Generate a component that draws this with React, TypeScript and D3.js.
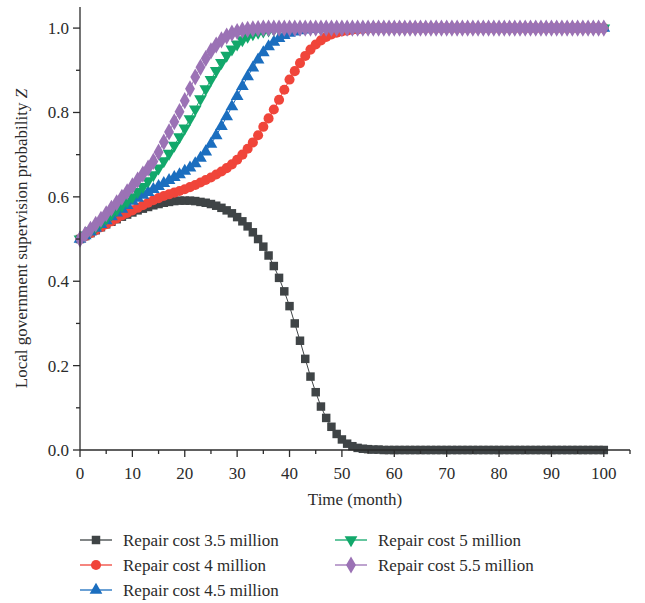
import * as d3 from "d3";

// months 0..100
const months = d3.range(0, 101);

const cost35 = [
  0.5, 0.507, 0.514, 0.521, 0.528, 0.535, 0.541, 0.547, 0.553, 0.558,
  0.563, 0.568, 0.572, 0.576, 0.58, 0.583, 0.586, 0.588, 0.59, 0.591,
  0.591, 0.591, 0.59, 0.588, 0.586, 0.583, 0.579, 0.574, 0.568, 0.561,
  0.552, 0.542, 0.53, 0.516, 0.5, 0.482, 0.461, 0.436, 0.408, 0.376,
  0.341, 0.3, 0.259, 0.216, 0.174, 0.137, 0.103, 0.076, 0.055, 0.038,
  0.025, 0.015, 0.009, 0.005, 0.003, 0.002, 0.001, 0.001, 0, 0,
  0, 0, 0, 0, 0, 0, 0, 0, 0, 0,
  0, 0, 0, 0, 0, 0, 0, 0, 0, 0,
  0, 0, 0, 0, 0, 0, 0, 0, 0, 0,
  0, 0, 0, 0, 0, 0, 0, 0, 0, 0,
  0,
];

const cost4 = [
  0.5, 0.507, 0.514, 0.521, 0.528, 0.535, 0.542, 0.549, 0.556, 0.562,
  0.568, 0.574, 0.58, 0.586, 0.592, 0.597, 0.602, 0.606, 0.61, 0.614,
  0.618, 0.623, 0.628, 0.634, 0.64, 0.646, 0.653, 0.66, 0.668, 0.677,
  0.688, 0.7, 0.714, 0.729, 0.746, 0.766, 0.786, 0.807, 0.83, 0.854,
  0.878, 0.898, 0.917, 0.934, 0.949, 0.961, 0.971, 0.979, 0.985, 0.989,
  0.992, 0.994, 0.996, 0.997, 0.998, 0.999, 1, 1, 1, 1,
  1, 1, 1, 1, 1, 1, 1, 1, 1, 1,
  1, 1, 1, 1, 1, 1, 1, 1, 1, 1,
  1, 1, 1, 1, 1, 1, 1, 1, 1, 1,
  1, 1, 1, 1, 1, 1, 1, 1, 1, 1,
  1,
];

const cost45 = [
  0.5, 0.508, 0.517, 0.526, 0.535, 0.544, 0.553, 0.562, 0.571, 0.58,
  0.59, 0.597, 0.604, 0.611, 0.618, 0.625, 0.632, 0.639, 0.646, 0.653,
  0.661, 0.669, 0.679, 0.692, 0.707, 0.725, 0.745, 0.767, 0.79, 0.814,
  0.838, 0.862, 0.885, 0.906, 0.925, 0.942, 0.956, 0.967, 0.976, 0.983,
  0.988, 0.991, 0.994, 0.996, 0.997, 0.998, 0.999, 1, 1, 1,
  1, 1, 1, 1, 1, 1, 1, 1, 1, 1,
  1, 1, 1, 1, 1, 1, 1, 1, 1, 1,
  1, 1, 1, 1, 1, 1, 1, 1, 1, 1,
  1, 1, 1, 1, 1, 1, 1, 1, 1, 1,
  1, 1, 1, 1, 1, 1, 1, 1, 1, 1,
  1,
];

const cost5 = [
  0.5, 0.509, 0.519, 0.529, 0.539, 0.549, 0.559, 0.569, 0.579, 0.589,
  0.6, 0.612, 0.624, 0.638, 0.652, 0.668, 0.685, 0.703, 0.722, 0.742,
  0.763, 0.785, 0.808, 0.832, 0.856, 0.878, 0.899, 0.918, 0.935, 0.95,
  0.962, 0.972, 0.98, 0.986, 0.99, 0.993, 0.995, 0.997, 0.998, 0.999,
  1, 1, 1, 1, 1, 1, 1, 1, 1, 1,
  1, 1, 1, 1, 1, 1, 1, 1, 1, 1,
  1, 1, 1, 1, 1, 1, 1, 1, 1, 1,
  1, 1, 1, 1, 1, 1, 1, 1, 1, 1,
  1, 1, 1, 1, 1, 1, 1, 1, 1, 1,
  1, 1, 1, 1, 1, 1, 1, 1, 1, 1,
  1,
];

const cost55 = [
  0.5, 0.511, 0.523, 0.535, 0.547, 0.56, 0.573, 0.586, 0.599, 0.612,
  0.626, 0.64, 0.654, 0.668, 0.684, 0.706, 0.73, 0.754, 0.778, 0.802,
  0.828, 0.856, 0.884, 0.907, 0.928, 0.946, 0.96, 0.972, 0.981, 0.988,
  0.992, 0.995, 0.997, 0.998, 0.999, 1, 1, 1, 1, 1,
  1, 1, 1, 1, 1, 1, 1, 1, 1, 1,
  1, 1, 1, 1, 1, 1, 1, 1, 1, 1,
  1, 1, 1, 1, 1, 1, 1, 1, 1, 1,
  1, 1, 1, 1, 1, 1, 1, 1, 1, 1,
  1, 1, 1, 1, 1, 1, 1, 1, 1, 1,
  1, 1, 1, 1, 1, 1, 1, 1, 1, 1,
  1,
];

const seriesNames = [
  "Repair cost 3.5 million",
  "Repair cost 4 million",
  "Repair cost 4.5 million",
  "Repair cost 5 million",
  "Repair cost 5.5 million",
];
const seriesValues = [cost35, cost4, cost45, cost5, cost55];
const colors = ["#3f4446", "#f0453a", "#1b6ebf", "#12a86b", "#9b72b5"];
const symbols = [
  d3.symbolSquare,
  d3.symbolCircle,
  d3.symbolTriangle,
  d3.symbolTriangle,
  d3.symbolDiamond,
];
const symbolSizes = [72, 80, 70, 70, 85];
const xTicks = [0, 10, 20, 30, 40, 50, 60, 70, 80, 90, 100];
const yTicks = [0, 0.2, 0.4, 0.6, 0.8, 1.0];

const FONT = "'Liberation Serif', 'DejaVu Serif', serif";
const INK = "#2b2b2b";

export default function App() {
  const width = 645;
  const height = 603;
  const left = 80;
  const top = 7;
  const bottom = 450;

  const x = d3.scaleLinear().domain([0, 105]).range([left, left + 550]);
  const y = d3.scaleLinear().domain([0, 1.05]).range([bottom, top]);

  const line = d3
    .line<number>()
    .x((d, i) => x(months[i]))
    .y((d) => y(d));

  const minorX = d3.range(5, 106, 10);
  const minorY = [0.1, 0.3, 0.5, 0.7, 0.9];

  const sym = (i: number) => d3.symbol().type(symbols[i]).size(symbolSizes[i])();
  const rot = (i: number) => (i === 3 ? " rotate(180)" : "");

  const legendPos = [
    [80, 540],
    [80, 565],
    [80, 590],
    [335, 540],
    [335, 565],
  ];

  return (
    <svg
      width={width}
      height={height}
      style={{ position: "absolute", left: 0, top: 0, background: "#fff" }}
    >
      {seriesValues.map((vals, i) => (
        <g key={seriesNames[i]}>
          <path d={line(vals) || ""} fill="none" stroke={colors[i]} strokeWidth={1} />
          {vals.map((v, j) => (
            <path
              key={j}
              d={sym(i) || ""}
              transform={`translate(${x(months[j])},${y(v)})${rot(i)}`}
              fill={colors[i]}
            />
          ))}
        </g>
      ))}

      {/* axes */}
      <g stroke={INK} strokeWidth={1.3}>
        <line x1={left} x2={left} y1={top} y2={bottom} />
        <line x1={left} x2={x(105)} y1={bottom} y2={bottom} />
        {xTicks.map((t) => (
          <line key={t} x1={x(t)} x2={x(t)} y1={bottom} y2={bottom + 7} />
        ))}
        {minorX.map((t) => (
          <line key={t} x1={x(t)} x2={x(t)} y1={bottom} y2={bottom + 4} />
        ))}
        {yTicks.map((t) => (
          <line key={t} x1={left - 7} x2={left} y1={y(t)} y2={y(t)} />
        ))}
        {minorY.map((t) => (
          <line key={t} x1={left - 4} x2={left} y1={y(t)} y2={y(t)} />
        ))}
      </g>
      <g fontFamily={FONT} fontSize={17} fill={INK}>
        {xTicks.map((t) => (
          <text key={t} x={x(t)} y={bottom + 29} textAnchor="middle">
            {t}
          </text>
        ))}
        {yTicks.map((t) => (
          <text key={t} x={left - 11} y={y(t) + 6} textAnchor="end">
            {d3.format(".1f")(t)}
          </text>
        ))}
        <text x={x(52.5)} y={505} textAnchor="middle">
          Time (month)
        </text>
        <text transform={`translate(27,${(top + bottom) / 2 + 10}) rotate(-90)`} textAnchor="middle">
          Local government supervision probability <tspan fontStyle="italic">Z</tspan>
        </text>
      </g>

      {/* legend */}
      <g fontFamily={FONT} fontSize={17} fill={INK}>
        {seriesNames.map((name, i) => {
          const [lx, ly] = legendPos[i];
          return (
            <g key={name} transform={`translate(${lx},${ly})`}>
              <line x1={0} x2={32} y1={0} y2={0} stroke={colors[i]} strokeWidth={1.3} />
              <path d={sym(i) || ""} transform={`translate(16,0)${rot(i)}`} fill={colors[i]} />
              <text x={43} y={6}>
                {name}
              </text>
            </g>
          );
        })}
      </g>
    </svg>
  );
}
